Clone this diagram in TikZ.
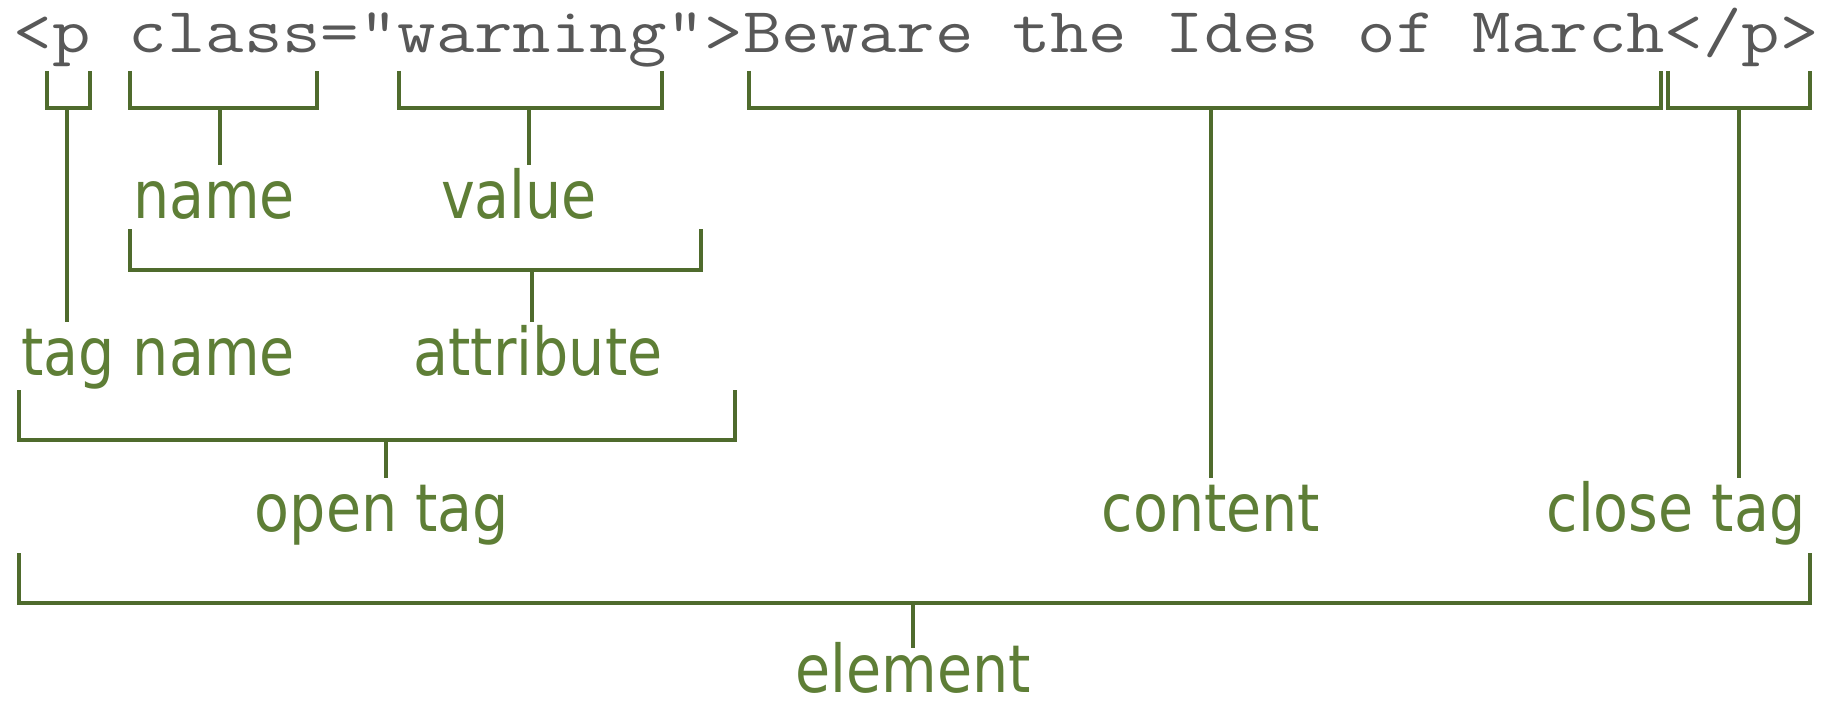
\documentclass[tikz,border=0pt]{standalone}
\usepackage{fontspec}
\newfontfamily\labfont[FakeStretch=0.865]{DejaVu Sans}
\newfontfamily\codefont[FakeStretch=1.165]{Latin Modern Mono}
\definecolor{labgreen}{HTML}{5E7E36}
\definecolor{linegreen}{HTML}{4F6B2D}
\definecolor{codegray}{HTML}{585858}
\begin{document}
\begin{tikzpicture}[x=1pt,y=-1pt,
  br/.style={draw=linegreen,line width=3.4pt},
  lbl/.style={font=\fontsize{66}{70}\selectfont\labfont, text=labgreen, anchor=base,
    inner xsep=0pt, inner ysep=3pt, text height=50pt, text depth=14pt},
]
\useasboundingbox[fill=white] (0,0) rectangle (1821,709);
\node[anchor=base west, inner sep=0pt, font=\fontsize{64}{70}\selectfont\codefont, text=codegray]
  (code) at (13.5,53) {<p class="warning">Beware the Ides of March</p>};

% labels
\node[lbl] (lname)  at (214,218)  {name};
\node[lbl] (lvalue) at (519,218)  {value};
\node[lbl] (ltag)   at (158,375)  {tag name};
\node[lbl] (lattr)  at (538,375)  {attribute};
\node[lbl] (lopen)  at (382,531)  {open tag};
\node[lbl] (lcont)  at (1211,531) {content};
\node[lbl] (lclose) at (1676,531) {close tag};
\node[lbl, text depth=0pt, inner ysep=0pt, text height=44pt] (lelem) at (913,692) {element};

% bracket stem coordinates
\coordinate (sp)    at (67,108);
\coordinate (scls)  at (220,108);
\coordinate (swarn) at (529,108);
\coordinate (scont) at (1211,108);
\coordinate (sclos) at (1739,108);
\coordinate (sattr) at (532,270);
\coordinate (sopen) at (386,440);
\coordinate (selem) at (913,603);

% brackets
\draw[br] (47,71) |- (90,108) -- (90,71);
\draw[br] (130,71) |- (317,108) -- (317,71);
\draw[br] (399,71) |- (662,108) -- (662,71);
\draw[br] (749,71) |- (1661,108) -- (1661,71);
\draw[br] (1668,71) |- (1810,108) -- (1810,71);
\draw[br] (130,229) |- (701,270) -- (701,229);
\draw[br] (19,390) |- (735,440) -- (735,390);
\draw[br] (19,553) |- (1810,603) -- (1810,553);

% stems
\draw[br] (sp) -- (sp |- ltag.north);
\draw[br] (scls) -- (scls |- lname.north);
\draw[br] (swarn) -- (swarn |- lvalue.north);
\draw[br] (scont) -- (scont |- lcont.north);
\draw[br] (sclos) -- (sclos |- lclose.north);
\draw[br] (sattr) -- (sattr |- lattr.north);
\draw[br] (sopen) -- (sopen |- lopen.north);
\draw[br] (selem) -- (selem |- lelem.north);
\end{tikzpicture}
\end{document}
